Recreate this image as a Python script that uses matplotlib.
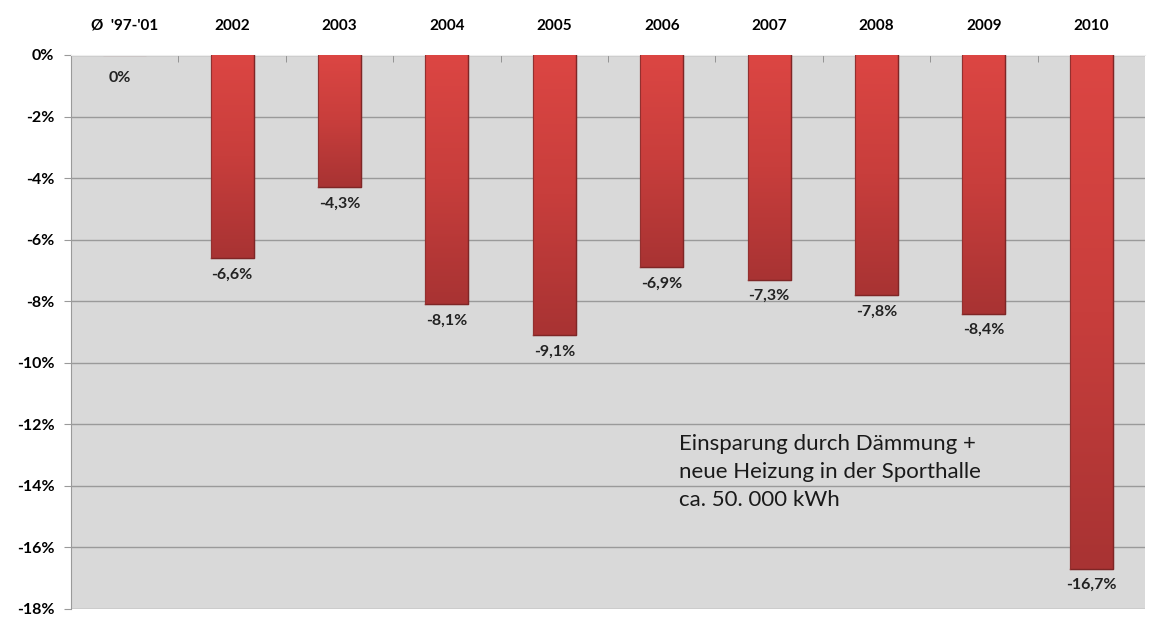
import numpy as np
import matplotlib.pyplot as plt
from matplotlib.colors import LinearSegmentedColormap
from matplotlib.ticker import FuncFormatter

plt.rcParams['font.family'] = ['Lato', 'DejaVu Sans']

categories = ["\u00d8  '97-'01", '2002', '2003', '2004', '2005', '2006',
              '2007', '2008', '2009', '2010']
values = [0.0, -6.6, -4.3, -8.1, -9.1, -6.9, -7.3, -7.8, -8.4, -16.7]
labels = ['0%', '-6,6%', '-4,3%', '-8,1%', '-9,1%', '-6,9%', '-7,3%',
          '-7,8%', '-8,4%', '-16,7%']

fig = plt.figure(figsize=(11.5, 6.19), dpi=100)
ax = fig.add_axes([71/1150, 1 - 609/619, 1074/1150, 554/619])
ax.set_facecolor('#d9d9d9')

x = np.arange(len(categories))
width = 0.4

ax.set_xlim(-0.5, len(categories) - 0.5)
ax.set_ylim(-18, 0)

# soft red gradient, a bit lighter on top
cmap = LinearSegmentedColormap.from_list('bar', ['#dc4643', '#c83e3c', '#a83333'])
grad = np.linspace(0, 1, 256).reshape(-1, 1)

bars = ax.bar(x, values, width, color='#c63d3b', edgecolor='#8c2a2a',
              linewidth=0.8, zorder=2)
for b, v in zip(bars, values):
    if v == 0:
        continue
    x0 = b.get_x()
    im = ax.imshow(grad, cmap=cmap, aspect='auto', zorder=3,
                   extent=[x0, x0 + width, v, 0], origin='upper')
    im.set_clip_path(b)
    ax.plot([x0, x0 + width, x0 + width], [v, v, 0], color='#7e2626',
            lw=1.0, zorder=4)
    ax.plot([x0, x0], [0, v], color='#93302f', lw=0.8, zorder=4)

for xi, v, lab in zip(x, values, labels):
    if v == 0:
        ax.text(xi - 0.05, -0.75, lab, ha='center', va='center',
                fontsize=11.5, fontweight='bold', color='#222222')
    else:
        ax.text(xi, v - 0.3, lab, ha='center', va='top',
                fontsize=11.5, fontweight='bold', color='#222222')

ax.set_yticks(np.arange(-18, 1, 2))
ax.yaxis.set_major_formatter(FuncFormatter(lambda v, p: '%d%%' % v))
ax.yaxis.grid(True, color='#9a9a9a', lw=1)
ax.set_axisbelow(True)
ax.tick_params(axis='y', length=5, color='#9a9a9a', pad=7, labelsize=11.5)
for t in ax.get_yticklabels():
    t.set_fontweight('bold')

ax.xaxis.tick_top()
ax.set_xticks(x)
ax.set_xticklabels(categories, fontsize=11, fontweight='bold')
ax.tick_params(axis='x', length=0, pad=16)
ax.set_xticks(np.arange(0.5, len(categories) - 0.5), minor=True)
ax.tick_params(axis='x', which='minor', direction='in', length=5,
               color='#888888', top=True)

for s in ['right', 'bottom']:
    ax.spines[s].set_visible(False)
ax.spines['left'].set_color('#9a9a9a')
ax.spines['top'].set_color('#eeeeee')

ax.text(5.16, -12.3, 'Einsparung durch D\u00e4mmung +\nneue Heizung in der Sporthalle\nca. 50. 000 kWh',
        fontsize=16, color='#1a1a1a', va='top', ha='left', linespacing=1.5)

plt.savefig('out.png', dpi=100)
